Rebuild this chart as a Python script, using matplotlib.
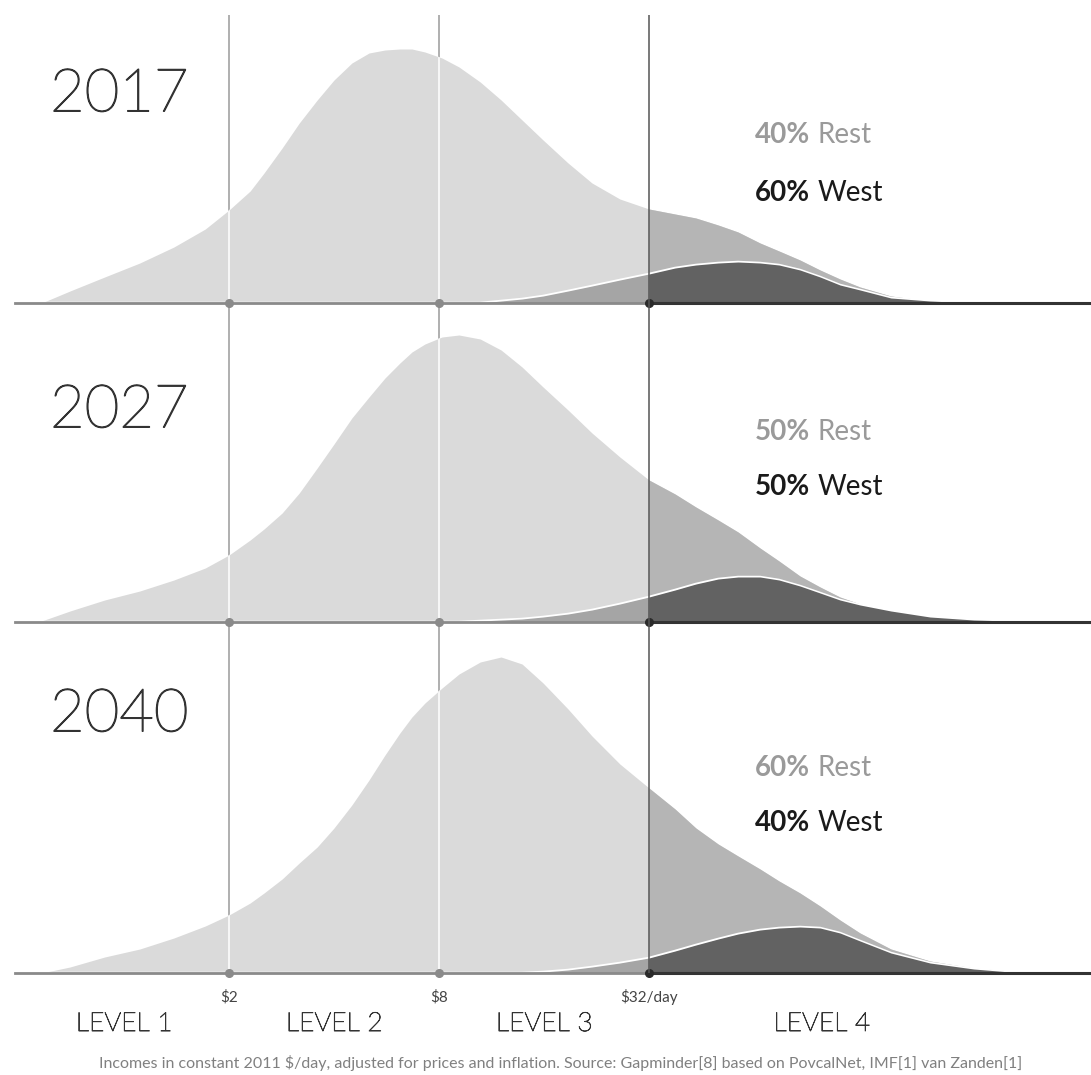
import matplotlib
matplotlib.use("Agg")
import matplotlib.pyplot as plt
import matplotlib.patheffects as pe

plt.rcParams["font.family"] = ["Lato", "DejaVu Sans"]

# income thresholds ($/day)
thresholds = [2, 8, 32]
tick_labels = ["$2", "$8", "$32/day"]
levels = ["LEVEL 1", "LEVEL 2", "LEVEL 3", "LEVEL 4"]
level_pos = [1.0, 4.0, 16.0, 100.0]

years = ["2017", "2027", "2040"]
rest_share = ["40%", "50%", "60%"]
west_share = ["60%", "50%", "40%"]

# income grid ($/day, log scale) and curve heights
income = [0.58, 0.70, 0.88, 1.11, 1.39, 1.71, 2.0, 2.30, 2.52, 2.84, 3.18, 3.58, 4.0, 4.5, 5.04,
          5.6, 6.18, 6.69, 7.29, 8.16, 9.13, 10.5, 12.05, 13.84, 15.9, 18.75, 21.96, 26.4, 32,
          38.0, 43.6, 50.5, 57.6, 66.6, 75.5, 86.7, 99, 112.9, 128.9, 158, 204.5, 273, 347, 434]

world_2017 = [0, 12, 26, 40, 56, 74, 93, 112, 130, 155, 180, 203, 223, 240, 250, 253, 254, 254,
              251, 245, 236, 221, 203, 183, 163, 140, 120, 104, 94, 89, 85, 78, 71, 60, 52, 43,
              33, 24, 16, 7, 2, 0, 0, 0]
west_2017 = [0] * 22 + [2, 4, 7, 12, 17, 23, 29, 35, 38, 40, 41, 40, 38, 33, 26, 18, 13, 5, 2,
                        0, 0, 0]

world_2027 = [1, 11, 22, 31, 42, 54, 67, 82, 93, 109, 129, 154, 178, 204, 225, 244, 259, 270,
              278, 285, 287, 283, 272, 255, 235, 212, 189, 165, 142, 128, 115, 102, 90, 74, 61,
              46, 35, 25, 18, 11, 5, 2, 1, 0]
west_2027 = [0] * 21 + [1, 2, 3, 5, 8, 12, 18, 25, 32, 38, 43, 45, 45, 42, 36, 29, 22, 17, 11,
                        5, 2, 1, 0]

world_2040 = [0, 6, 16, 24, 35, 47, 58, 70, 80, 94, 110, 126, 145, 168, 193, 218, 240, 256,
              270, 285, 299, 311, 316, 309, 290, 264, 237, 209, 185, 164, 145, 129, 117, 104,
              92, 80, 67, 53, 40, 24, 12, 5, 2, 0]
west_2040 = [0] * 24 + [1, 3, 6, 10, 15, 22, 28, 34, 39, 43, 45, 46, 45, 40, 32, 20, 10, 4, 1,
                        0]

panels = [(world_2017, west_2017), (world_2027, west_2027), (world_2040, west_2040)]

W, H = 1091, 1075
XMIN, XMAX = 0.441, 592
baselines = [303, 622, 973]
tops = [0, 303, 622]

LIGHT = "#dadada"
MID_R = "#b5b5b5"
MID_W = "#a5a5a5"
DARK_W = "#626262"


def fx(px):
    return px / W


def fy(py):
    return 1 - py / H


fig = plt.figure(figsize=(W / 100, H / 100), dpi=100)

# background axes: grey threshold lines
bg = fig.add_axes([0, 0, 1, 1], zorder=0)
bg.set_xscale("log", base=2)
bg.set_xlim(XMIN, XMAX)
bg.set_ylim(H, 0)
bg.axis("off")
bg.vlines(thresholds[:2], 15, baselines[-1], color="#9a9a9a", lw=1.1)

left = [v <= 32 for v in income]
right = [v >= 32 for v in income]

for i, (world, west) in enumerate(panels):
    base, top = baselines[i], tops[i]
    h = base - top
    ax = fig.add_axes([0, fy(base), 1, h / H], zorder=1)
    ax.patch.set_alpha(0)
    ax.set_xscale("log", base=2)
    ax.set_xlim(XMIN, XMAX)
    ax.set_ylim(0, h)
    ax.axis("off")

    poly = ax.fill_between(income, 0, world, color=LIGHT, lw=0, zorder=1)
    ax.fill_between(income, 0, world, where=right, color=MID_R, lw=0, zorder=1.5)

    ax.plot(income, west, color="white", lw=1.8, zorder=2)
    ax.fill_between(income, 0, west, where=left, color=MID_W, lw=0, zorder=2.5)
    ax.fill_between(income, 0, west, where=right, color=DARK_W, lw=0, zorder=2.5)

    # white threshold lines inside the distribution
    clip = poly.get_paths()[0]
    for t in thresholds[:2]:
        ln = ax.axvline(t, color="white", lw=1.1, zorder=3)
        ln.set_clip_path(clip, transform=ax.transData)

    # baseline
    ax.plot([0.487, 32], [0, 0], color="#8a8a8a", lw=2, clip_on=False, zorder=4)
    ax.plot([32, XMAX], [0, 0], color="#333333", lw=2.2, clip_on=False, zorder=4)
    ax.plot(thresholds[:2], [0, 0], "o", color="#8a8a8a", ms=5.5, clip_on=False, zorder=5)
    ax.plot([32], [0], "o", color="#2a2a2a", ms=5.5, clip_on=False, zorder=5)

# top axes: dark $32 line and labels
fg = fig.add_axes([0, 0, 1, 1], zorder=2)
fg.patch.set_alpha(0)
fg.set_xscale("log", base=2)
fg.set_xlim(XMIN, XMAX)
fg.set_ylim(H, 0)
fg.axis("off")
fg.vlines([thresholds[2]], 15, baselines[-1], color="#555555", lw=1.1)

renderer = fig.canvas.get_renderer()
year_y = [95, 411, 715]
rest_y = [135, 432, 768]
west_y = [193, 487, 823]
thick = [pe.withStroke(linewidth=1.0, foreground="#333333")]


def share_label(y, pct, word, color):
    t = fig.text(fx(755), fy(y), pct, fontsize=20, fontweight="bold", color=color,
                 ha="left", va="center")
    bb = t.get_window_extent(renderer)
    fig.text((bb.x1 + 7) / W, fy(y), word, fontsize=20, color=color,
             ha="left", va="center")


for i in range(3):
    fig.text(fx(50), fy(year_y[i]), years[i], fontsize=43, fontweight="light",
             color="#333333", ha="left", va="center", path_effects=thick)
    share_label(rest_y[i], rest_share[i], "Rest", "#9a9a9a")
    share_label(west_y[i], west_share[i], "West", "#1a1a1a")

for t, lab in zip(thresholds, tick_labels):
    fg.text(t, 997, lab, fontsize=11, color="#444444", ha="center", va="center")

for p, lab in zip(level_pos, levels):
    fg.text(p, 1024, lab, fontsize=19, fontweight="light", color="#333333",
            ha="center", va="center", path_effects=[pe.withStroke(linewidth=0.6, foreground="#333333")])

fig.text(fx(561), fy(1063),
         "Incomes in constant 2011 $/day, adjusted for prices and inflation. "
         "Source: Gapminder[8] based on PovcalNet, IMF[1] van Zanden[1]",
         fontsize=11.5, color="#808080", ha="center", va="center")

fig.savefig("out.png", dpi=100, facecolor="white")
